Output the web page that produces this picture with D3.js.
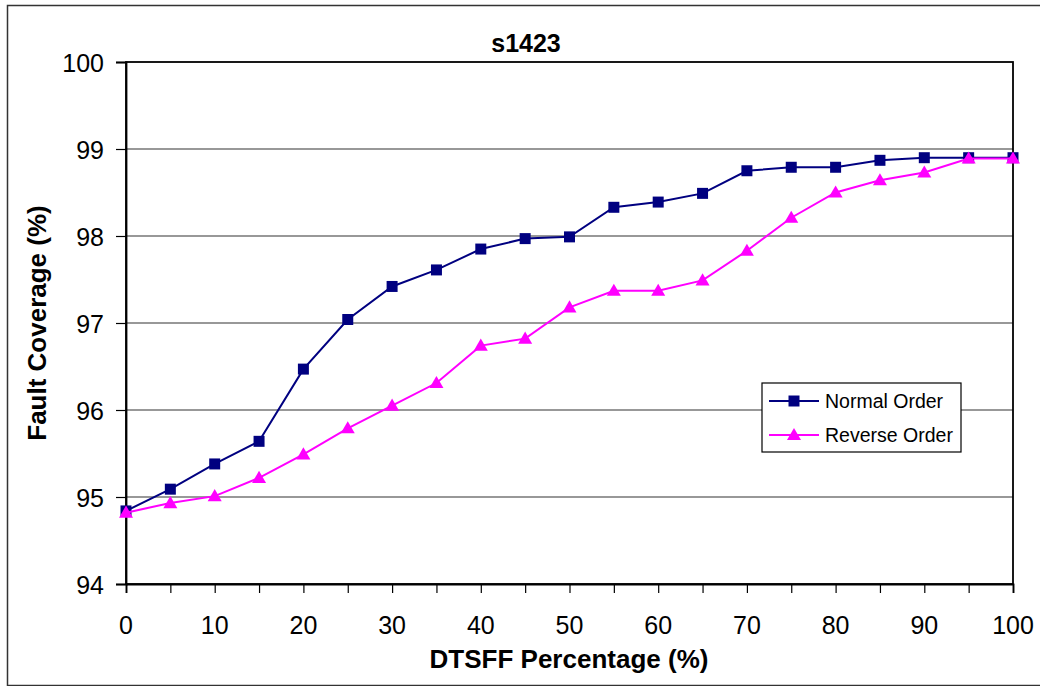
<!DOCTYPE html>
<html>
<head>
<meta charset="utf-8">
<script src="https://cdn.jsdelivr.net/npm/d3@7"></script>
<style>
  html, body { margin: 0; padding: 0; background: #fff; }
  svg { display: block; font-family: "Liberation Sans", Arial, sans-serif; }
</style>
</head>
<body>
<svg id="chart" width="1040" height="686"></svg>
<script>
// DTSFF percentage (x) and fault coverage (%) for the two insertion orders
const percentages = [0, 5, 10, 15, 20, 25, 30, 35, 40, 45, 50, 55, 60, 65, 70, 75, 80, 85, 90, 95, 100];
const normalOrder = [94.84, 95.09, 95.38, 95.64, 96.47, 97.04, 97.42, 97.61, 97.85, 97.97, 97.99,
                     98.33, 98.39, 98.49, 98.75, 98.79, 98.79, 98.87, 98.90, 98.90, 98.90];
const reverseOrder = [94.82, 94.93, 95.01, 95.22, 95.49, 95.79, 96.05, 96.31, 96.74, 96.82, 97.18,
                      97.37, 97.37, 97.49, 97.83, 98.21, 98.50, 98.64, 98.73, 98.89, 98.89];
const xTicks = [0, 10, 20, 30, 40, 50, 60, 70, 80, 90, 100];
const xMinorTicks = d3.range(0, 101, 5);
const yTicks = [94, 95, 96, 97, 98, 99, 100];
const seriesNames = ["Normal Order", "Reverse Order"];
const chartTitle = "s1423";
const xTitle = "DTSFF Percentage (%)";
const yTitle = "Fault Coverage (%)";

const svg = d3.select("#chart");
const plot = { left: 126, top: 62, right: 1013, bottom: 584 };

const x = d3.scaleLinear().domain([0, 100]).range([plot.left, plot.right]);
const y = d3.scaleLinear().domain([94, 100]).range([plot.bottom, plot.top]);

// outer chart frame
svg.append("rect")
  .attr("x", 7.5).attr("y", 5.5).attr("width", 1050).attr("height", 680)
  .attr("fill", "#fff").attr("stroke", "#333").attr("stroke-width", 1.5);

// horizontal gridlines
svg.append("g")
  .selectAll("line")
  .data(yTicks.filter(v => v > 94 && v < 100))
  .join("line")
  .attr("x1", plot.left).attr("x2", plot.right)
  .attr("y1", d => y(d)).attr("y2", d => y(d))
  .attr("stroke", "#333").attr("stroke-width", 1.2);

// plot area border
svg.append("rect")
  .attr("x", plot.left).attr("y", plot.top)
  .attr("width", plot.right - plot.left).attr("height", plot.bottom - plot.top)
  .attr("fill", "none").attr("stroke", "#000").attr("stroke-width", 1.8);

// x axis: ticks every 5, labels every 10
const xAxis = svg.append("g")
  .attr("transform", `translate(0,${plot.bottom})`)
  .call(d3.axisBottom(x).tickValues(xMinorTicks).tickSize(9).tickFormat(""));
xAxis.select(".domain").attr("stroke", "#000").attr("stroke-width", 1.8);
xAxis.selectAll(".tick line").attr("stroke", "#000").attr("stroke-width", 1.2);

svg.append("g")
  .selectAll("text")
  .data(xTicks)
  .join("text")
  .attr("x", d => x(d)).attr("y", 634)
  .attr("text-anchor", "middle")
  .attr("font-size", 25)
  .attr("fill", "#000")
  .text(d => d);

// y axis
const yAxis = svg.append("g")
  .attr("transform", `translate(${plot.left},0)`)
  .call(d3.axisLeft(y).tickValues(yTicks).tickSize(10).tickPadding(12).tickFormat(d => d));
yAxis.select(".domain").attr("stroke", "#000").attr("stroke-width", 1.8);
yAxis.selectAll(".tick line").attr("stroke", "#000").attr("stroke-width", 1.2);
yAxis.selectAll(".tick text")
  .attr("font-size", 25).attr("font-family", "Liberation Sans, Arial, sans-serif")
  .attr("fill", "#000").attr("dy", "0.36em");

// titles
svg.append("text")
  .attr("x", 526).attr("y", 52)
  .attr("text-anchor", "middle")
  .attr("font-size", 25).attr("font-weight", "bold")
  .text(chartTitle);

svg.append("text")
  .attr("x", 569).attr("y", 668)
  .attr("text-anchor", "middle")
  .attr("font-size", 26).attr("font-weight", "bold")
  .text(xTitle);

svg.append("text")
  .attr("transform", `translate(46,323) rotate(-90)`)
  .attr("text-anchor", "middle")
  .attr("font-size", 26).attr("font-weight", "bold")
  .text(yTitle);

// series lines and markers
const line = d3.line().x((d, i) => x(percentages[i])).y(d => y(d));
const squareSym = d3.symbol().type(d3.symbolSquare).size(121);
const triSym = d3.symbol().type(d3.symbolTriangle).size(85);

const series = [
  { name: seriesNames[0], values: normalOrder, color: "#000080", symbol: squareSym, dy: 0 },
  { name: seriesNames[1], values: reverseOrder, color: "#FF00FF", symbol: triSym, dy: 1 }
];

series.forEach(s => {
  svg.append("path")
    .datum(s.values)
    .attr("d", line)
    .attr("fill", "none")
    .attr("stroke", s.color)
    .attr("stroke-width", 2);
  svg.append("g")
    .selectAll("path")
    .data(s.values)
    .join("path")
    .attr("transform", (d, i) => `translate(${x(percentages[i])},${y(d) + s.dy})`)
    .attr("d", s.symbol)
    .attr("fill", s.color);
});

// legend
const legend = svg.append("g");
legend.append("rect")
  .attr("x", 762).attr("y", 383).attr("width", 199).attr("height", 69)
  .attr("fill", "#fff").attr("stroke", "#000").attr("stroke-width", 1.2);
series.forEach((s, i) => {
  const ly = 401 + i * 34;
  legend.append("line")
    .attr("x1", 769).attr("x2", 819).attr("y1", ly).attr("y2", ly)
    .attr("stroke", s.color).attr("stroke-width", 2);
  legend.append("path")
    .attr("transform", `translate(794,${ly + s.dy})`)
    .attr("d", s.symbol)
    .attr("fill", s.color);
  legend.append("text")
    .attr("x", 825).attr("y", ly)
    .attr("dy", "0.35em")
    .attr("font-size", 19.5)
    .attr("fill", "#000")
    .text(s.name);
});
</script>
</body>
</html>
